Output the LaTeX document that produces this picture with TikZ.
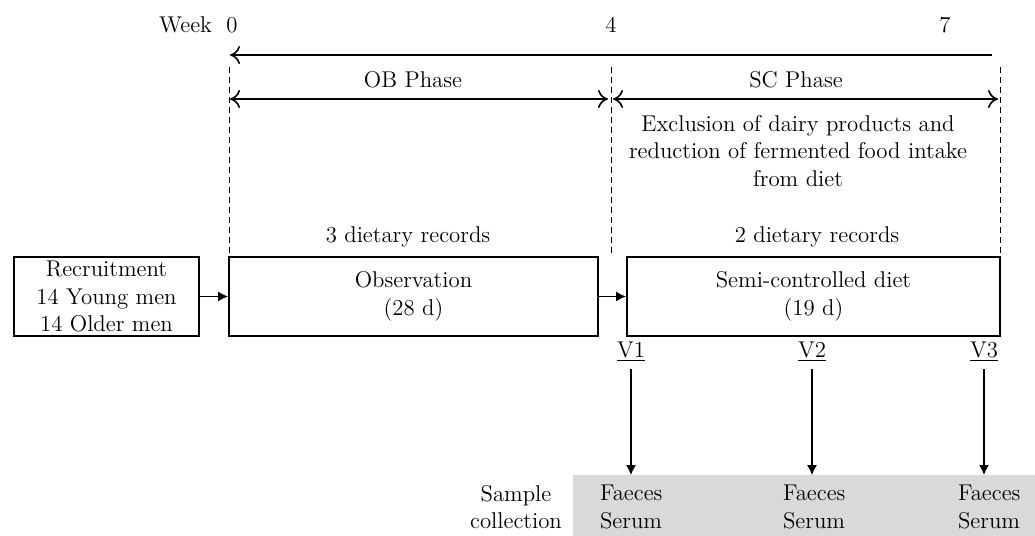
\documentclass[tikz,border=0pt]{standalone}
\usetikzlibrary{positioning,arrows.meta}

\begin{document}
\begin{tikzpicture}[x=0.5pt,y=-0.5pt,font=\fontsize{11.4}{13.75}\selectfont,
  stagebox/.style={draw,line width=1pt,align=center,minimum height=39.5pt,inner sep=0pt},
  phasearrow/.style={{To[length=5pt,width=9pt]}-{To[length=5pt,width=9pt]},line width=0.8pt},
  flow/.style={-{Latex[length=5pt,width=5pt]},line width=0.6pt},
  guide/.style={densely dashed,line width=0.4pt}]
\useasboundingbox (0,0) rectangle (1035,536);

% week scale
\node[anchor=east] (week) at (219,25) {Week};
\node (w0) at (232,25) {0};
\node (w4) at (611,25) {4};
\node (w7) at (945,25) {7};
\coordinate (t0) at (230,55);
\coordinate (t7) at (992,55);
\draw[{To[length=5pt,width=9pt]}-,line width=0.8pt] (t0) -- (t7);

% phases
\coordinate (p0) at (229.5,67);
\coordinate (p4) at (611,67);
\coordinate (p7) at (1000,67);
\draw[phasearrow] (230,99) -- (608,99);
\draw[phasearrow] (613,99) -- (998,99);
\node (ob) at (413,80) {OB Phase};
\node (sc) at (796,80) {SC Phase};
\node[align=center] (excl) at (798,151) {Exclusion of dairy products and\\reduction of fermented food intake\\from diet};
\node (rec3) at (408,237) {3 dietary records};
\node (rec2) at (817,237) {2 dietary records};

% stages
\node[stagebox,minimum width=92.5pt] (recruit) at (106.5,296.5) {Recruitment\\14 Young men\\14 Older men};
\node[stagebox,minimum width=184.5pt] (obs) at (413.5,296.5) {Observation\\(28 d)};
\node[stagebox,minimum width=186.5pt] (semi) at (813.5,296.5) {Semi-controlled diet\\(19 d)};
\draw[flow] (recruit) -- (obs);
\draw[flow] (obs) -- (semi);

\draw[guide] (p0) -- (p0 |- obs.north);
\draw[guide] (p4) -- (p4 |- obs.north);
\draw[guide] (p7) -- (p7 |- semi.north);

% visits
\node (v1) at (631,352) {\underline{V1}};
\node (v2) at (812,352) {\underline{V2}};
\node (v3) at (984,352) {\underline{V3}};

% samples
\node[fill=black!15,minimum width=231pt,minimum height=30.5pt,inner sep=0pt,anchor=north west] (samples) at (573,475) {};
\node[align=center] (collect) at (516,507) {Sample\\collection};
\node[align=left,anchor=west] (s1) at (593,507) {Faeces\\Serum};
\node[align=left,anchor=west] (s2) at (776,507) {Faeces\\Serum};
\node[align=left,anchor=west] (s3) at (951,507) {Faeces\\Serum};
\draw[flow] (v1) -- (v1 |- samples.north);
\draw[flow] (v2) -- (v2 |- samples.north);
\draw[flow] (v3) -- (v3 |- samples.north);

\end{tikzpicture}
\end{document}
